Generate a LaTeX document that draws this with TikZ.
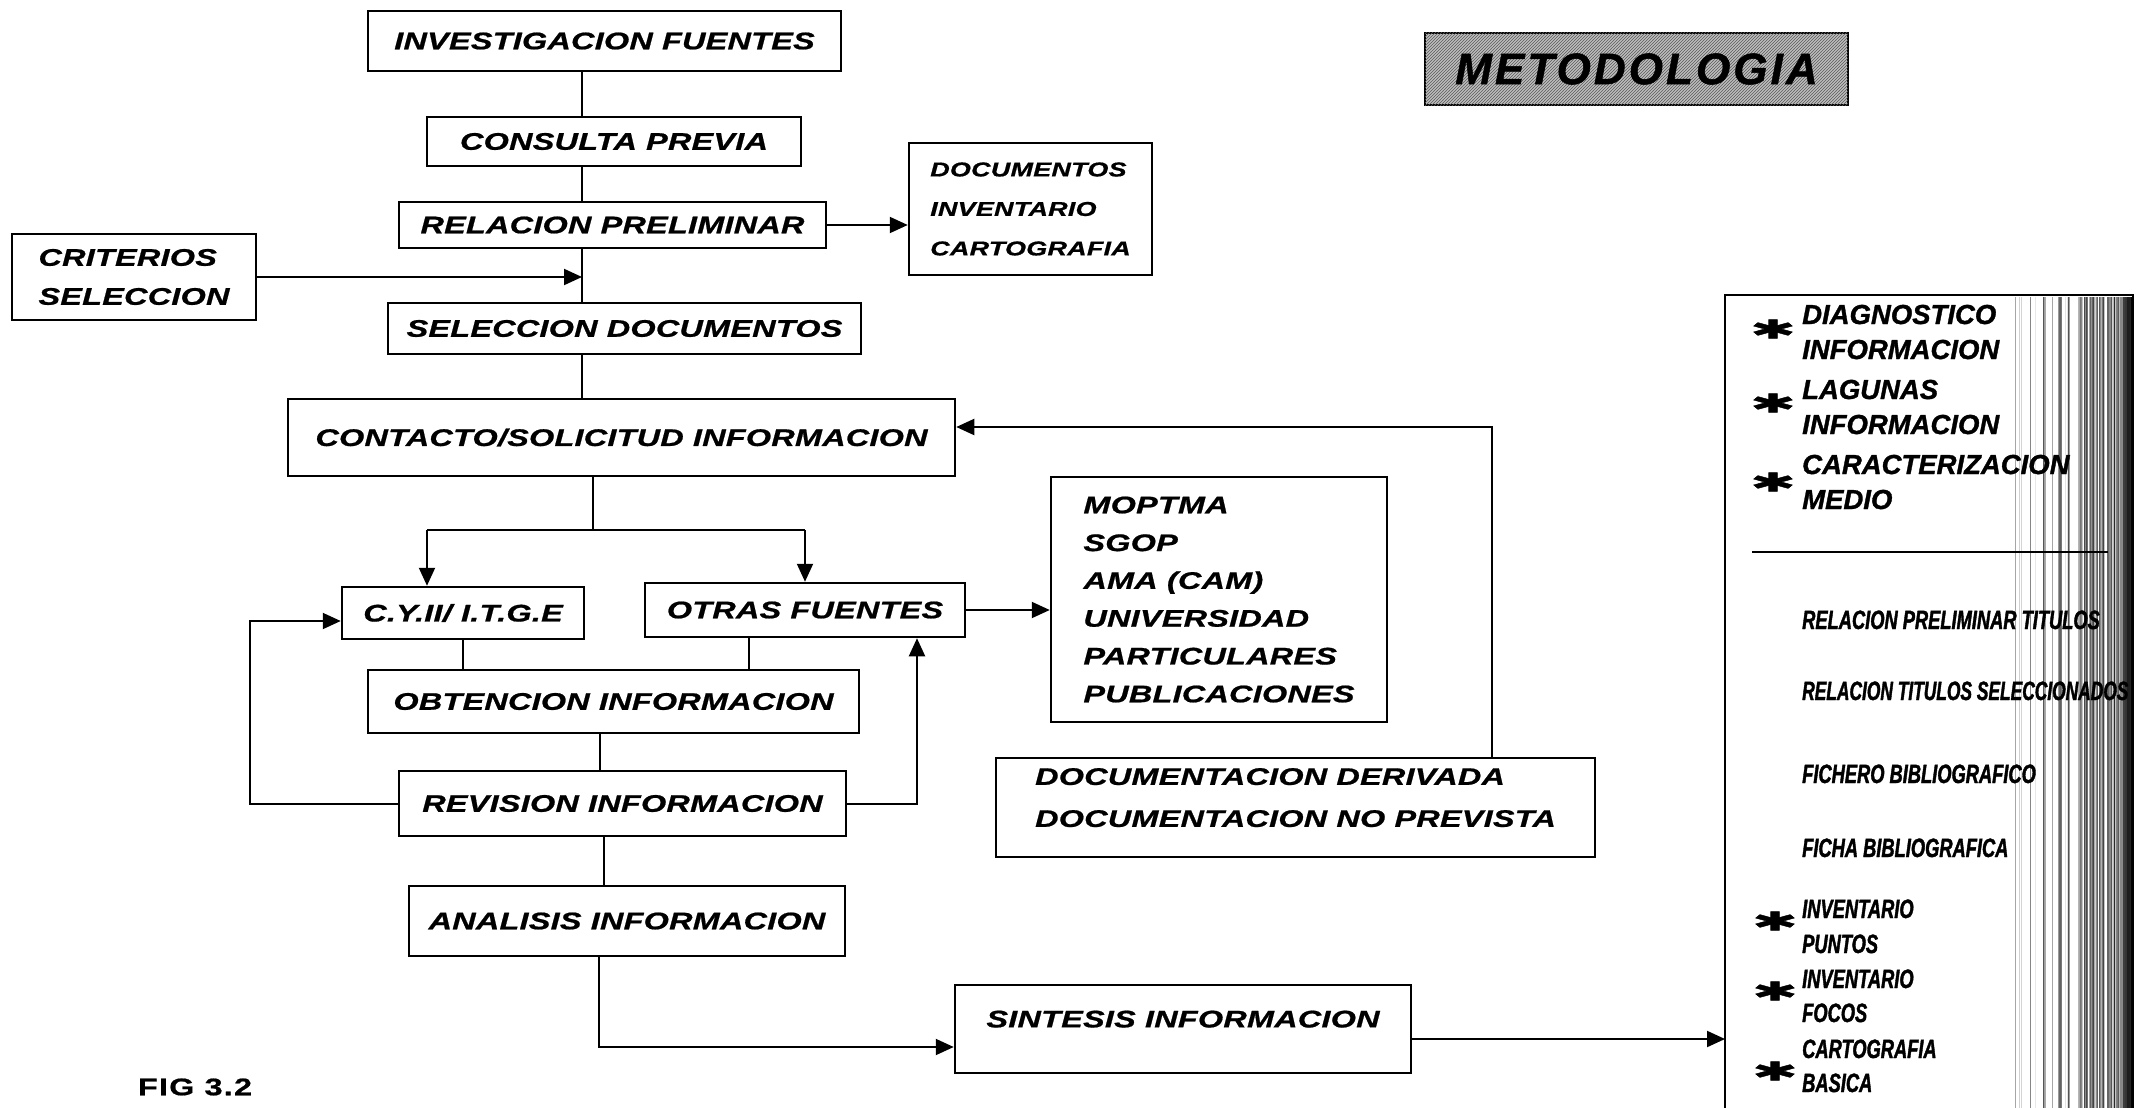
\documentclass[tikz,border=0pt]{standalone}
\usepackage{fontspec}
\setmainfont{Liberation Sans}
\newfontfamily\widef{Liberation Sans}[FakeStretch=1.35, FakeBold=0.8]
\newfontfamily\heavyf{Liberation Sans}[FakeBold=1.2]
\newfontfamily\condf{Liberation Sans}[FakeStretch=0.69, FakeBold=1.4]
\newfontfamily\symf{DejaVu Sans}[FakeBold=1.5]
\usetikzlibrary{arrows.meta,patterns}
% wide bold oblique caps: size, baselineskip, letter space
\newcommand\mf[3]{\widef\fontsize{#1pt}{#2pt}\selectfont\addfontfeature{LetterSpace=#3}\bfseries\itshape}

\begin{document}
\begin{tikzpicture}[x=1pt,y=-1pt,
  box/.style={draw, line width=2.5pt, inner sep=0pt, font=\mf{24}{28}{1}},
  wh/.style 2 args={minimum width=#1pt, minimum height=#2pt},
  ln/.style={line width=2pt},
  arr/.style={ln, -{Triangle[length=18pt,width=16pt]}},
  side/.style={anchor=base west, inner sep=0pt, font=\heavyf\fontsize{27.5pt}{30pt}\selectfont\bfseries\itshape},
  cond/.style={anchor=base west, inner sep=0pt, font=\condf\fontsize{26.5pt}{30pt}\selectfont\bfseries\itshape},
  star/.style={inner sep=0pt, font=\symf\fontsize{32pt}{32pt}\selectfont\bfseries}]

\useasboundingbox (0,0) rectangle (2137,1108);
\fill[white] (0,0) rectangle (2137,1108);

% ---------- main flow boxes ----------
\node[box, wh={473}{60}] (inv) at (604.5,41) {INVESTIGACION FUENTES};
\node[box, wh={374}{49}] (cons) at (614,141.5) {CONSULTA PREVIA};
\node[box, wh={427}{46}] (rel) at (612.5,225) {RELACION PRELIMINAR};
\node[box, wh={243}{132}, align=left, font=\mf{20}{39.5}{1}] (docs) at (1030.5,209)
  {DOCUMENTOS\\INVENTARIO\\CARTOGRAFIA};
\node[box, wh={244}{86}, align=left, font=\mf{24}{39}{1}] (crit) at (134,277)
  {CRITERIOS\\SELECCION};
\node[box, wh={473}{51}] (sel) at (624.5,328.5) {SELECCION DOCUMENTOS};
\node[box, wh={667}{77}] (cont) at (621.5,437.5) {CONTACTO/SOLICITUD INFORMACION};
\node[box, wh={242}{52}] (cyii) at (463,613) {C.Y.II/ I.T.G.E};
\node[box, wh={320}{54}] (otras) at (805,610) {OTRAS FUENTES};
\node[box, wh={336}{245}, align=left, font=\mf{24}{37.8}{1}] (mopt) at (1219,599.5)
  {MOPTMA\\SGOP\\AMA (CAM)\\UNIVERSIDAD\\PARTICULARES\\PUBLICACIONES};
\node[box, wh={491}{63}] (obt) at (613.5,701.5) {OBTENCION INFORMACION};
\node[box, wh={447}{65}] (rev) at (622.5,803.5) {REVISION INFORMACION};
\node[box, wh={599}{99}, align=left, font=\mf{24}{42}{1}, text depth=20pt] (deriv) at (1295.5,807.5)
  {DOCUMENTACION DERIVADA\\DOCUMENTACION NO PREVISTA};
\node[box, wh={436}{70}] (anal) at (627,921) {ANALISIS INFORMACION};
\node[box, wh={456}{88}, text depth=20pt] (sint) at (1183,1029) {SINTESIS INFORMACION};

% ---------- title ----------
\node[draw, line width=2.5pt, wh={423}{72}, inner sep=0pt, fill=gray!50,
      postaction={pattern=north east lines, pattern color=black!65},
      font=\heavyf\fontsize{44pt}{48pt}\selectfont\addfontfeature{LetterSpace=7}\bfseries\itshape]
  (metod) at (1636.5,69) {METODOLOGIA};

\node[inner sep=0pt, font=\widef\fontsize{24pt}{28pt}\selectfont\addfontfeature{LetterSpace=5}\bfseries]
  (fig) at (195,1087) {FIG 3.2};

% ---------- routing points ----------
\coordinate (spine) at (582,0);
\coordinate (splitL) at (427,530);
\coordinate (splitR) at (805,530);
\coordinate (split) at (593,530);
\coordinate (odrop) at (749,0);
\coordinate (rdrop) at (600,0);
\coordinate (loopL) at (250,621);
\coordinate (loopR) at (917,0);
\coordinate (fb) at (1492,427);
\coordinate (adrop) at (604,0);
\coordinate (an) at (599,1047);
\coordinate (panelin) at (1725,1039);

% ---------- connectors ----------
\draw[ln] (inv.south -| spine) -- (cons.north -| spine);
\draw[ln] (cons.south -| spine) -- (rel.north -| spine);
\draw[ln] (rel.south -| spine) -- (sel.north -| spine);
\draw[arr] (crit.east) -- (crit.east -| spine);
\draw[arr] (rel.east) -- (rel.east -| docs.west);
\draw[ln] (sel.south -| spine) -- (cont.north -| spine);
\draw[ln] (cont.south -| split) -- (split);
\draw[ln] (splitL) -- (splitR);
\draw[arr] (splitL) -- (splitL |- cyii.north);
\draw[arr] (splitR) -- (splitR |- otras.north);
\draw[ln] (cyii.south) -- (cyii.south |- obt.north);
\draw[ln] (otras.south -| odrop) -- (obt.north -| odrop);
\draw[ln] (obt.south -| rdrop) -- (rev.north -| rdrop);
\draw[arr] (rev.west) -| (loopL) -- (loopL -| cyii.west);
\draw[arr] (rev.east) -| (loopR |- otras.south);
\draw[arr] (otras.east) -- (otras.east -| mopt.west);
\draw[arr] (deriv.north -| fb) -- (fb) -- (fb -| cont.east);
\draw[ln] (rev.south -| adrop) -- (anal.north -| adrop);
\draw[arr] (anal.south -| an) -- (an) -- (an -| sint.west);
\draw[arr] (sint.east |- panelin) -- (panelin);

% ---------- results panel ----------
\pgfmathsetseed{42}
\foreach \k in {1,...,140}{
  \pgfmathsetmacro\px{2132-120*rnd*rnd}
  \pgfmathsetmacro\op{0.08+0.4*rnd}
  \pgfmathsetmacro\lw{0.5+1.2*rnd}
  \draw[black, opacity=\op, line width=\lw pt] (\px,297) -- (\px,1108);
}
\draw[line width=2.5pt] (1725,1108) -- (1725,295) -- (2133,295) -- (2133,1108);
\draw[ln] (1752,552) -- (2108,552);

\node[side] (p1a) at (1802,324) {DIAGNOSTICO};
\node[side] (p1b) at (1802,359) {INFORMACION};
\node[side] (p2a) at (1802,399) {LAGUNAS};
\node[side] (p2b) at (1802,434) {INFORMACION};
\node[side] (p3a) at (1802,474) {CARACTERIZACION};
\node[side] (p3b) at (1802,509) {MEDIO};
\node[star] (s1) at (1773,329) {\scalebox{1.7}[0.8]{✱}};
\node[star] (s2) at (1773,403) {\scalebox{1.7}[0.8]{✱}};
\node[star] (s3) at (1773,482) {\scalebox{1.7}[0.8]{✱}};

\node[cond] (q1) at (1802,629) {RELACION PRELIMINAR TITULOS};
\node[cond] (q2) at (1802,700) {\scalebox{0.95}[1]{RELACION TITULOS SELECCIONADOS}};
\node[cond] (q3) at (1802,783) {FICHERO BIBLIOGRAFICO};
\node[cond] (q4) at (1802,857) {FICHA BIBLIOGRAFICA};
\node[cond] (q5a) at (1802,918) {INVENTARIO};
\node[cond] (q5b) at (1802,953) {PUNTOS};
\node[cond] (q6a) at (1802,988) {INVENTARIO};
\node[cond] (q6b) at (1802,1022) {FOCOS};
\node[cond] (q7a) at (1802,1058) {CARTOGRAFIA};
\node[cond] (q7b) at (1802,1092) {BASICA};
\node[star] (s4) at (1775,921) {\scalebox{1.7}[0.8]{✱}};
\node[star] (s5) at (1775,991) {\scalebox{1.7}[0.8]{✱}};
\node[star] (s6) at (1775,1071) {\scalebox{1.7}[0.8]{✱}};
\end{tikzpicture}
\end{document}
